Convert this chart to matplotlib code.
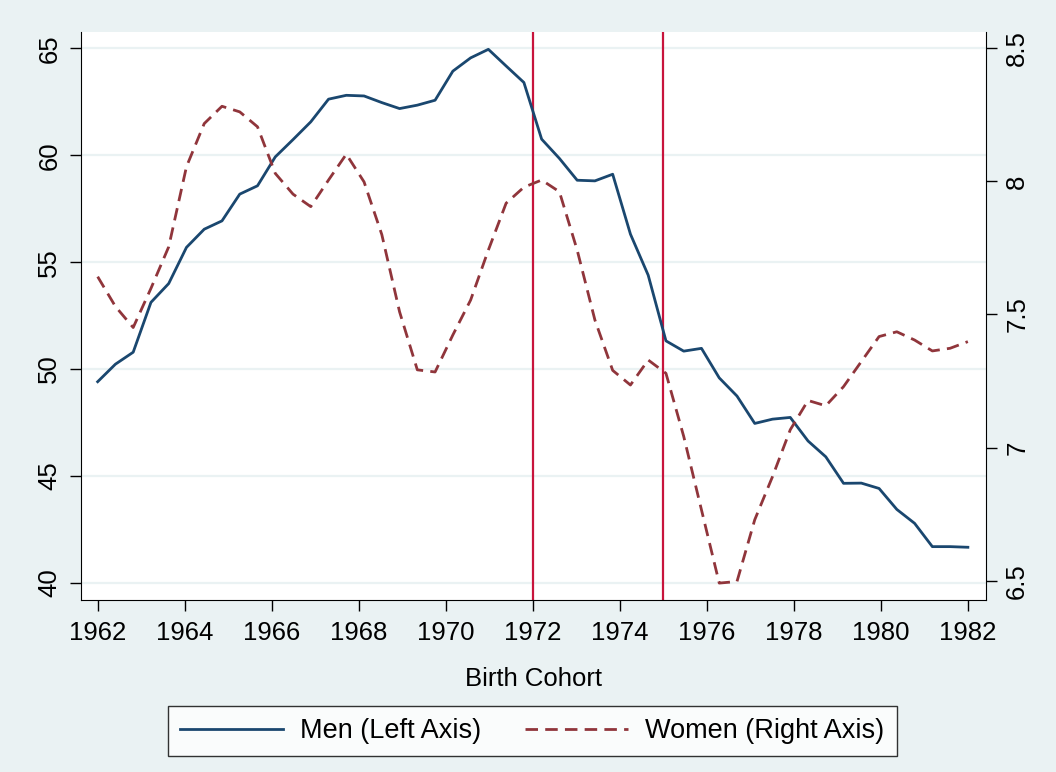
import numpy as np
import matplotlib
matplotlib.use("Agg")
import matplotlib.pyplot as plt
from matplotlib.lines import Line2D

# birth cohorts, 50 evenly spaced points from 1962 to 1982
cohort = np.linspace(1962, 1982, 50)

men = [49.41, 50.23, 50.79, 53.12, 54.00, 55.69, 56.54, 56.93, 58.18, 58.57,
       59.92, 60.73, 61.56, 62.62, 62.80, 62.77, 62.46, 62.18, 62.34, 62.57,
       63.93, 64.55, 64.95, 64.17, 63.40, 60.75, 59.85, 58.83, 58.80, 59.11,
       56.31, 54.39, 51.32, 50.84, 50.97, 49.59, 48.74, 47.46, 47.66, 47.74,
       46.64, 45.90, 44.66, 44.67, 44.42, 43.44, 42.79, 41.70, 41.70, 41.67]

women = [7.642, 7.530, 7.451, 7.598, 7.754, 8.055, 8.217, 8.282, 8.261, 8.205,
         8.030, 7.952, 7.905, 8.005, 8.102, 7.998, 7.800, 7.510, 7.292, 7.284,
         7.423, 7.554, 7.742, 7.918, 7.978, 8.005, 7.961, 7.742, 7.479, 7.290,
         7.235, 7.329, 7.279, 7.042, 6.766, 6.491, 6.497, 6.729, 6.891, 7.067,
         7.177, 7.157, 7.229, 7.323, 7.417, 7.435, 7.404, 7.363, 7.373, 7.398]

reform_years = [1972, 1975]

x_ticks = list(range(1962, 1983, 2))
left_ticks = [40, 45, 50, 55, 60, 65]
right_ticks = [6.5, 7, 7.5, 8, 8.5]
right_labels = ['6.5', '7', '7.5', '8', '8.5']

bg = '#eaf2f3'
navy = '#1a476f'
maroon = '#90353b'
vred = '#c8143c'
fs = 18.5
lw = 2.0
dash = (0, (4.5, 2.6))

plt.rcParams['font.family'] = ['Liberation Sans', 'DejaVu Sans']

fig = plt.figure(figsize=(10.56, 7.72), dpi=100, facecolor=bg)
ax = fig.add_axes([80.7 / 1056, 1 - 600 / 772, 905 / 1056, 568 / 772])
ax.set_facecolor('white')

ax.plot(cohort, men, color=navy, lw=lw, zorder=3)
for yr in reform_years:
    ax.axvline(yr, color=vred, lw=1.6, zorder=2)

ax.set_xlim(1961.61, 1982.41)
ax.set_ylim(39.205, 65.76)
ax.set_xticks(x_ticks)
ax.set_yticks(left_ticks)
ax.yaxis.grid(True, color=bg, lw=1.6)
ax.set_axisbelow(True)
ax.tick_params(axis='both', direction='out', length=8, width=1, labelsize=fs)
ax.tick_params(axis='y', labelrotation=90, pad=6)
ax.tick_params(axis='x', pad=7)
for lab in ax.get_yticklabels():
    lab.set_va('center')
ax.set_xlabel('Birth Cohort', fontsize=fs, labelpad=16)
for s in ['top', 'right']:
    ax.spines[s].set_visible(False)

ax2 = ax.twinx()
ax2.plot(cohort, women, color=maroon, lw=lw, linestyle=dash, zorder=3)
ax2.set_ylim(6.4275, 8.561)
ax2.set_yticks(right_ticks)
ax2.set_yticklabels(right_labels)
ax2.tick_params(axis='y', direction='out', length=8, width=1, labelsize=fs,
                labelrotation=90, pad=6)
for lab in ax2.get_yticklabels():
    lab.set_va('center')
for s in ['top', 'left', 'bottom']:
    ax2.spines[s].set_visible(False)

handles = [Line2D([], [], color=navy, lw=lw),
           Line2D([], [], color=maroon, lw=lw, linestyle=dash)]
leg = fig.legend(handles, ['Men (Left Axis)', 'Women (Right Axis)'],
                 loc='center', bbox_to_anchor=(532 / 1056, 1 - 731 / 772),
                 ncol=2, fontsize=19.5, frameon=True, fancybox=False,
                 edgecolor='black', handlelength=3.8, handletextpad=0.65,
                 columnspacing=1.6, borderpad=0.45, borderaxespad=0)
leg.get_frame().set_linewidth(1)

fig.savefig('out.png', dpi=100, facecolor=bg)
